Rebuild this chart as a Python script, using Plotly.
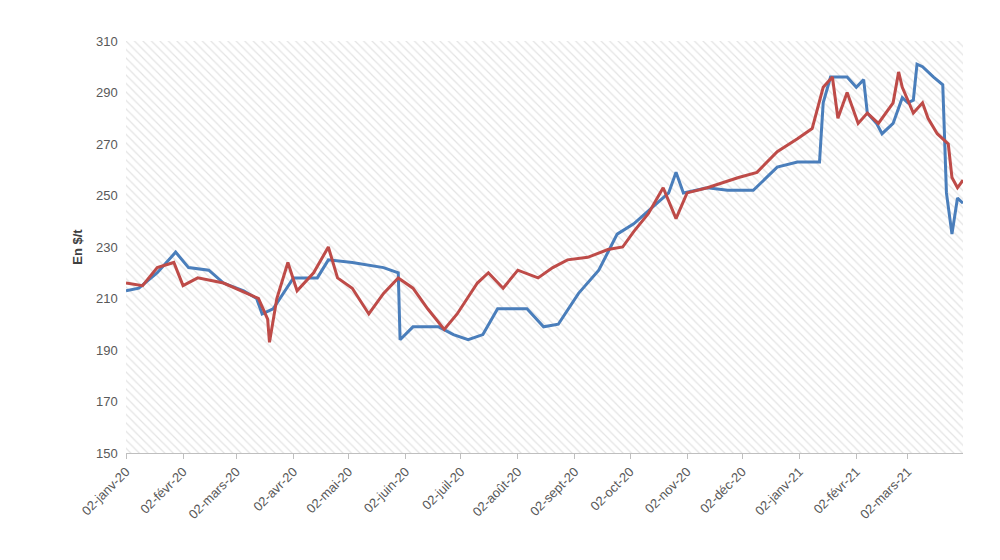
import pandas as pd
import plotly.graph_objects as go

start = pd.Timestamp("2020-01-02")

# days since 02-janv-20, prices in $/t
blue_days = [0, 7, 17, 27, 34, 45, 53, 64, 71, 74, 80, 91, 104, 110, 123, 140, 148, 149, 156, 170,
             178, 186, 194, 202, 218, 227, 235, 246, 257, 267, 276, 284, 295, 299, 303, 316, 327,
             341, 354, 365, 377, 379, 383, 392, 397, 401, 403, 408, 411, 417, 420, 422, 425, 428,
             430, 433, 439, 444, 446, 449, 452, 455]
blue_vals = [213, 214, 220, 228, 222, 221, 216, 213, 210, 204, 206, 218, 218, 225, 224, 222, 220, 194,
             199, 199, 196, 194, 196, 206, 206, 199, 200, 212, 221, 235, 239, 244, 251, 259, 251, 253,
             252, 252, 261, 263, 263, 286, 296, 296, 292, 295, 282, 278, 274, 278, 284, 288, 286, 287,
             301, 300, 296, 293, 251, 235, 249, 247]

red_days = [0, 9, 17, 26, 31, 39, 53, 66, 72, 77, 78, 82, 88, 93, 102, 110, 115, 123, 132, 140, 148,
            156, 164, 173, 180, 191, 197, 205, 213, 224, 232, 240, 251, 262, 270, 276, 284, 292, 299,
            305, 316, 333, 343, 354, 365, 373, 379, 384, 387, 392, 398, 403, 409, 417, 420, 422, 428,
            433, 436, 441, 447, 449, 452, 455]
red_vals = [216, 215, 222, 224, 215, 218, 216, 212, 210, 202, 193, 210, 224, 213, 220, 230, 218, 214,
            204, 212, 218, 214, 206, 198, 204, 216, 220, 214, 221, 218, 222, 225, 226, 229, 230, 236,
            243, 253, 241, 251, 253, 257, 259, 267, 272, 276, 292, 296, 280, 290, 278, 282, 278, 286,
            298, 292, 282, 286, 280, 274, 270, 257, 253, 256]

tick_labels = ["02-janv-20", "02-févr-20", "02-mars-20", "02-avr-20", "02-mai-20", "02-juin-20",
               "02-juil-20", "02-août-20", "02-sept-20", "02-oct-20", "02-nov-20", "02-déc-20",
               "02-janv-21", "02-févr-21", "02-mars-21"]
tick_dates = ["2020-01-02", "2020-02-02", "2020-03-02", "2020-04-02", "2020-05-02", "2020-06-02",
              "2020-07-02", "2020-08-02", "2020-09-02", "2020-10-02", "2020-11-02", "2020-12-02",
              "2021-01-02", "2021-02-02", "2021-03-02"]

x_end = pd.Timestamp("2021-04-01")
y_min, y_max = 150, 310

fig = go.Figure()
# hatched plot background
fig.add_trace(go.Scatter(x=[start, x_end, x_end, start, start], y=[y_min, y_min, y_max, y_max, y_min],
                         mode="lines", line=dict(width=0), fill="toself", fillcolor="white",
                         fillpattern=dict(shape="\\", fgcolor="#c8c8c8", bgcolor="white", size=6, solidity=0.2),
                         hoverinfo="skip", showlegend=False))
fig.add_trace(go.Scatter(x=start + pd.to_timedelta(blue_days, unit="D"), y=blue_vals, mode="lines",
                         line=dict(color="#4A7EBB", width=3), showlegend=False))
fig.add_trace(go.Scatter(x=start + pd.to_timedelta(red_days, unit="D"), y=red_vals, mode="lines",
                         line=dict(color="#BE4B48", width=3), showlegend=False))

fig.update_layout(
    width=1000, height=560, margin=dict(l=118, r=45, t=33, b=115, autoexpand=False),
    paper_bgcolor="white", plot_bgcolor="white",
    font=dict(family="Liberation Sans", size=13, color="#595959"),
)
fig.update_xaxes(range=[start, x_end], tickvals=tick_dates, ticktext=tick_labels, tickangle=-45,
                 showgrid=False, showline=True, linecolor="#bfbfbf", ticks="outside",
                 tickcolor="#bfbfbf", ticklen=5, automargin=False)
fig.update_yaxes(range=[y_min, y_max], tick0=150, dtick=20, showgrid=True, gridcolor="#d9d9d9",
                 zeroline=False, automargin=False, ticksuffix="  ",
                 title=dict(text="<b>En $/t</b>", font=dict(size=13, color="#404040"), standoff=10))
fig.write_html("out.html")
